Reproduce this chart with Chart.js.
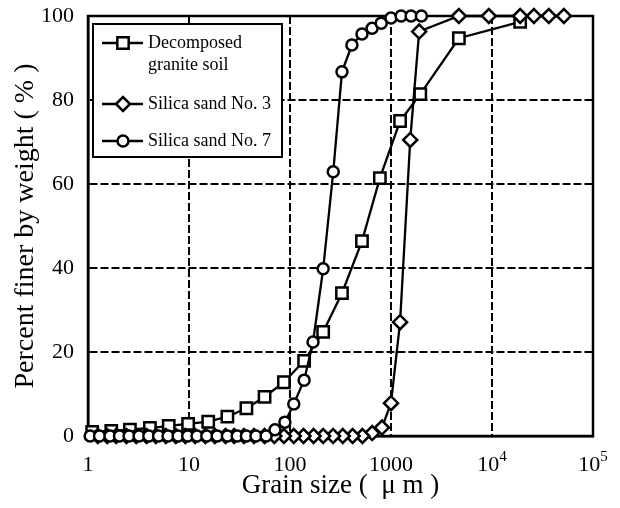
<!DOCTYPE html>
<html>

<head>
    <title>Grain size distribution</title>
    <script src="https://cdn.jsdelivr.net/npm/chart.js"></script>
    <style>
        body { margin: 0; background: #fff; }
        #wrap { width: 620px; height: 508px; }
    </style>
</head>

<body>
    <div id="wrap">
        <canvas id="chart" width="620" height="508"></canvas>
    </div>
    <script>
        // grain size (um) and percent finer for each material
        var graniteSize = [1.1, 1.7, 2.6, 4.1, 6.3, 9.8, 15.5, 24, 37, 56, 87, 138, 213, 327, 516, 776, 1230, 1950, 4700, 19000];
        var granitePct = [1.0, 1.2, 1.5, 1.9, 2.4, 2.9, 3.4, 4.6, 6.6, 9.3, 12.8, 17.9, 24.8, 34, 46.4, 61.4, 75, 81.4, 94.7, 98.6];

        var sand3Size = [1.25, 1.55, 1.9, 2.4, 3.0, 3.8, 4.7, 5.9, 7.4, 9.2, 11.5, 14.5, 18, 23, 28, 35, 44, 56, 70, 87,
            109, 136, 171, 213, 267, 333, 417, 521, 651, 813, 1000, 1230, 1550, 1900, 4700, 9300, 19000, 26000, 36500, 51500];
        var sand3Pct = [0, 0, 0, 0, 0, 0, 0, 0, 0, 0, 0, 0, 0, 0, 0, 0, 0, 0, 0, 0,
            0, 0, 0, 0, 0, 0, 0, 0, 0.7, 2.0, 7.8, 27.1, 70.5, 96.3, 100, 100, 100, 100, 100, 100];

        var sand7Size = [1.05, 1.3, 1.65, 2.05, 2.55, 3.2, 4.0, 5.0, 6.2, 7.8, 9.7, 12, 15, 19, 24, 30, 37, 46, 58,
            71, 89, 109, 138, 169, 213, 268, 327, 410, 516, 650, 800, 1000, 1260, 1580, 2000];
        var sand7Pct = [0, 0, 0, 0, 0, 0, 0, 0, 0, 0, 0, 0, 0, 0, 0, 0, 0, 0, 0,
            1.5, 3.3, 7.6, 13.3, 22.4, 39.8, 62.9, 86.7, 93.1, 95.7, 97.1, 98.3, 99.5, 100, 100, 100];

        var legendLines = [['Decomposed', 'granite soil'], ['Silica sand No. 3'], ['Silica sand No. 7']];
        var xTicks = [1, 10, 100, 1000, 10000, 100000];
        var xTickLabels = ['1', '10', '100', '1000', '', ''];
        var xTickExp = ['', '', '', '', '4', '5'];
        var yTicks = [0, 20, 40, 60, 80, 100];

        var serif = "'Liberation Serif', 'Times New Roman', serif";

        function pairs(xs, ys) {
            return xs.map(function (x, i) { return { x: x, y: ys[i] }; });
        }

        var frame = {
            id: 'frame',
            beforeDatasetsDraw: function (chart) {
                var a = chart.chartArea, ctx = chart.ctx;
                ctx.save();
                ctx.strokeStyle = '#000';
                ctx.lineWidth = 2.5;
                ctx.strokeRect(a.left, a.top, a.right - a.left, a.bottom - a.top);
                ctx.restore();
            }
        };

        // 10^4, 10^5 with a raised exponent
        var expLabels = {
            id: 'expLabels',
            afterDraw: function (chart) {
                var ctx = chart.ctx, sx = chart.scales.x;
                var y = sx.top + 29;
                ctx.save();
                ctx.fillStyle = '#000';
                ctx.textBaseline = 'middle';
                ctx.textAlign = 'left';
                xTicks.forEach(function (v, i) {
                    if (!xTickExp[i]) return;
                    var px = sx.getPixelForValue(v);
                    ctx.font = '22px ' + serif;
                    var w1 = ctx.measureText('10').width;
                    ctx.font = '15px ' + serif;
                    var w2 = ctx.measureText(xTickExp[i]).width;
                    var x0 = px - (w1 + w2) / 2;
                    ctx.font = '22px ' + serif;
                    ctx.fillText('10', x0, y);
                    ctx.font = '15px ' + serif;
                    ctx.fillText(xTickExp[i], x0 + w1, y - 8);
                });
                ctx.restore();
            }
        };

        var boxLegend = {
            id: 'boxLegend',
            afterDraw: function (chart) {
                var ctx = chart.ctx, a = chart.chartArea;
                var bx = a.left + 5, by = a.top + 8, bw = 189, bh = 133;
                var rowY = [27, 88, 125];
                ctx.save();
                ctx.fillStyle = '#fff';
                ctx.fillRect(bx, by, bw, bh);
                ctx.strokeStyle = '#000';
                ctx.lineWidth = 2;
                ctx.strokeRect(bx, by, bw, bh);
                chart.data.datasets.forEach(function (ds, i) {
                    var y = a.top + rowY[i];
                    ctx.beginPath();
                    ctx.moveTo(bx + 9, y);
                    ctx.lineTo(bx + 50, y);
                    ctx.lineWidth = ds.borderWidth;
                    ctx.stroke();
                    ctx.fillStyle = '#fff';
                    ctx.lineWidth = ds.pointBorderWidth;
                    Chart.helpers.drawPoint(ctx, {
                        pointStyle: ds.pointStyle, rotation: 0,
                        radius: ds.pointRadius, borderWidth: ds.pointBorderWidth
                    }, bx + 30, y);
                    ctx.fillStyle = '#000';
                    ctx.font = '18px ' + serif;
                    ctx.textBaseline = 'middle';
                    ctx.textAlign = 'left';
                    legendLines[i].forEach(function (t, j) {
                        ctx.fillText(t, bx + 55, y + j * 22);
                    });
                });
                ctx.restore();
            }
        };

        function lineSet(label, data, style, radius, order) {
            return {
                label: label,
                data: data,
                showLine: true,
                borderColor: '#000',
                backgroundColor: '#fff',
                borderWidth: 2.3,
                pointStyle: style,
                pointRadius: radius,
                pointBackgroundColor: '#fff',
                pointBorderColor: '#000',
                pointBorderWidth: 2.5,
                clip: false,
                order: order
            };
        }

        var ctx = document.getElementById('chart').getContext('2d');
        new Chart(ctx, {
            type: 'scatter',
            data: {
                datasets: [
                    lineSet('Decomposed granite soil', pairs(graniteSize, granitePct), 'rect', 8, 2),
                    lineSet('Silica sand No. 3', pairs(sand3Size, sand3Pct).reverse(), 'rectRot', 7, 1),
                    lineSet('Silica sand No. 7', pairs(sand7Size, sand7Pct), 'circle', 5.5, 0)
                ]
            },
            options: {
                responsive: false,
                animation: false,
                events: [],
                layout: { padding: { left: 0, top: 16, right: 27, bottom: 0 } },
                plugins: {
                    legend: { display: false },
                    tooltip: { enabled: false },
                    colors: { enabled: false }
                },
                scales: {
                    x: {
                        type: 'logarithmic',
                        min: 1,
                        max: 100000,
                        afterBuildTicks: function (s) {
                            s.ticks = xTicks.map(function (v) { return { value: v }; });
                        },
                        afterFit: function (s) {
                            s.height = 72;
                            s.paddingLeft = 0;
                            s.paddingRight = 0;
                        },
                        ticks: {
                            color: '#000',
                            padding: 16,
                            maxRotation: 0,
                            autoSkip: false,
                            font: { family: serif, size: 22 },
                            callback: function (v) {
                                var i = xTicks.indexOf(v);
                                return i >= 0 ? xTickLabels[i] : '';
                            }
                        },
                        grid: { color: '#000', lineWidth: 2, drawTicks: false },
                        border: { display: true, color: '#000', width: 2.5, dash: [8, 3] },
                        title: {
                            display: true,
                            text: 'Grain size (  \u03bc m )',
                            color: '#000',
                            font: { family: serif, size: 27 },
                            padding: { top: 0, bottom: 6 }
                        }
                    },
                    y: {
                        min: 0,
                        max: 100,
                        afterBuildTicks: function (s) {
                            s.ticks = yTicks.map(function (v) { return { value: v }; });
                        },
                        afterFit: function (s) {
                            s.width = 88;
                            s.paddingTop = 0;
                            s.paddingBottom = 0;
                        },
                        ticks: {
                            color: '#000',
                            padding: 14,
                            font: { family: serif, size: 22 }
                        },
                        grid: { color: '#000', lineWidth: 2, drawTicks: false },
                        border: { display: true, color: '#000', width: 2.5, dash: [8, 3] },
                        title: {
                            display: true,
                            text: 'Percent finer by weight ( % )',
                            color: '#000',
                            font: { family: serif, size: 28 },
                            padding: { top: 9, bottom: 0 }
                        }
                    }
                }
            },
            plugins: [frame, expLabels, boxLegend]
        });
    </script>
</body>

</html>
